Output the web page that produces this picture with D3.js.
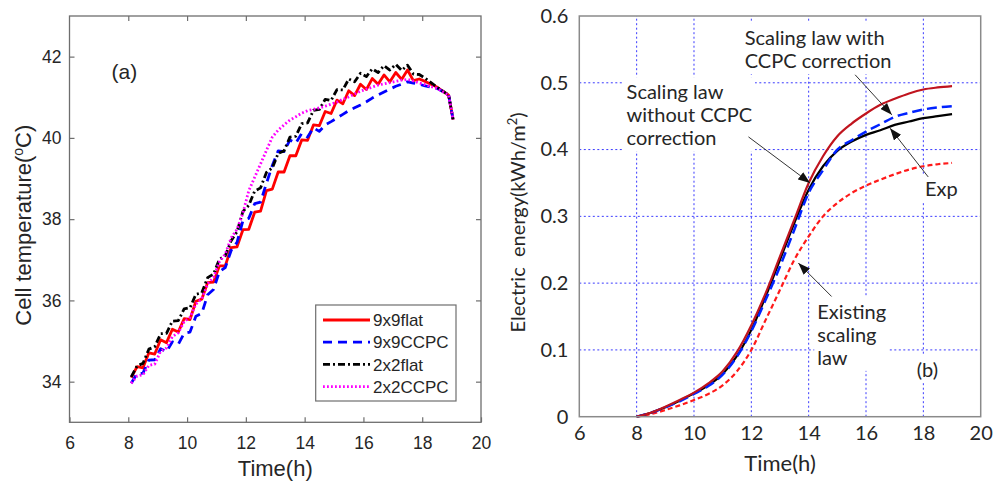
<!DOCTYPE html>
<html><head><meta charset="utf-8">
<script src="https://cdnjs.cloudflare.com/ajax/libs/d3/7.8.5/d3.min.js"></script>
<style>
body{margin:0;background:#fff;}
svg{display:block;}
</style></head>
<body>
<svg id="c" width="995" height="481"></svg>
<script>
// ---------- Panel (a) data ----------
const timeA = [8.1,8.3,8.5,8.7,8.9,9.1,9.3,9.5,9.7,9.9,10.1,10.3,10.5,10.7,10.9,11.1,11.3,11.5,11.7,11.9,12.1,12.3,12.5,12.7,12.9,13.1,13.3,13.5,13.7,13.9,14.1,14.3,14.5,14.7,14.9,15.1,15.3,15.5,15.7,15.9,16.1,16.3,16.5,16.7,16.9,17.1,17.3,17.5,17.7,17.9,18.1,18.3,18.5,18.7,18.9,19.05];
const flat9x9 = [34.10,34.37,34.34,34.71,34.68,35.03,34.96,35.29,35.22,35.55,35.53,35.98,36.03,36.44,36.45,36.85,36.85,37.30,37.32,37.74,37.75,38.17,38.20,38.70,38.74,39.16,39.16,39.56,39.56,39.95,39.94,40.32,40.30,40.65,40.60,40.93,40.84,41.16,41.04,41.32,41.19,41.46,41.32,41.55,41.38,41.61,41.44,41.67,41.41,41.45,41.39,41.32,41.25,41.15,41.05,40.45];
const ccpc9x9 = [33.96,34.20,34.21,34.53,34.54,34.81,34.74,34.98,34.92,35.19,35.22,35.61,35.68,36.14,36.27,36.71,36.81,37.23,37.43,37.96,38.02,38.38,38.42,38.88,39.32,39.68,39.66,39.95,39.87,40.11,40.02,40.25,40.16,40.32,40.40,40.49,40.58,40.67,40.74,40.81,40.89,40.98,41.06,41.13,41.20,41.27,41.32,41.38,41.35,41.32,41.28,41.25,41.22,41.14,41.05,40.45];
const flat2x2 = [34.12,34.39,34.45,34.80,34.86,35.18,35.19,35.49,35.50,35.79,35.82,36.15,36.19,36.56,36.65,37.01,37.10,37.47,37.69,38.19,38.34,38.69,38.77,39.15,39.26,39.62,39.68,40.02,40.04,40.35,40.37,40.68,40.70,40.95,40.92,41.19,41.18,41.45,41.38,41.59,41.51,41.70,41.61,41.78,41.67,41.81,41.66,41.79,41.57,41.56,41.47,41.36,41.25,41.15,41.05,40.45];
const ccpc2x2 = [33.96,34.14,34.17,34.40,34.43,34.75,34.83,35.11,35.20,35.48,35.58,35.91,36.04,36.40,36.57,36.95,37.14,37.54,37.75,38.15,38.70,39.03,39.36,39.69,40.02,40.19,40.32,40.44,40.52,40.61,40.67,40.70,40.74,40.78,40.83,40.88,40.95,41.01,41.08,41.15,41.20,41.25,41.30,41.33,41.36,41.39,41.42,41.44,41.40,41.35,41.31,41.26,41.22,41.14,41.05,40.45];
const legendA = ["9x9flat","9x9CCPC","2x2flat","2x2CCPC"];
const xTicksA = [6,8,10,12,14,16,18,20];
const yTicksA = [34,36,38,40,42];

// ---------- Panel (b) data ----------
const timeB = [8,8.5,9,9.5,10,10.5,11,11.5,12,12.5,13,13.5,14,14.5,15,15.5,16,16.5,17,17.5,18,18.5,19];
const scalingNoCorr = [0,0.006,0.015,0.025,0.036,0.05,0.068,0.097,0.137,0.185,0.24,0.295,0.35,0.39,0.42,0.439,0.454,0.467,0.476,0.484,0.49,0.493,0.495];
const scalingCorr   = [0,0.006,0.014,0.023,0.034,0.046,0.063,0.09,0.128,0.175,0.225,0.28,0.335,0.369,0.4,0.414,0.427,0.438,0.449,0.455,0.46,0.463,0.465];
const expData       = [0,0.006,0.014,0.024,0.035,0.047,0.064,0.091,0.13,0.18,0.235,0.29,0.34,0.375,0.398,0.412,0.422,0.429,0.437,0.442,0.447,0.45,0.453];
const existingLaw   = [0,0.004,0.01,0.017,0.025,0.034,0.047,0.068,0.1,0.145,0.19,0.235,0.27,0.3,0.32,0.335,0.346,0.355,0.363,0.37,0.375,0.378,0.38];
const xTicksB = [6,8,10,12,14,16,18,20];
const yTicksB = [0,0.1,0.2,0.3,0.4,0.5,0.6];

const svg = d3.select("#c");
const FA = "'Liberation Sans', Arial, sans-serif";
const FB = "Lato, 'Open Sans', sans-serif";

// ================= Panel (a) =================
const xA = d3.scaleLinear().domain([6,20]).range([69.5,481]);
const yA = d3.scaleLinear().domain([33,43]).range([422.3,16]);
const gA = svg.append("g");
const axisCol = "#6e6e6e", txtCol = "#262626";

gA.append("rect").attr("x",xA(6)).attr("y",yA(43)).attr("width",xA(20)-xA(6)).attr("height",yA(33)-yA(43))
  .attr("fill","none").attr("stroke",axisCol).attr("stroke-width",1.3);

function styleAxis(g, showLabels){
  g.select(".domain").remove();
  g.selectAll(".tick line").attr("stroke",axisCol).attr("stroke-width",1.2);
  g.selectAll(".tick text").attr("fill",txtCol).style("font-family",FA).style("font-size","17.5px");
  if(!showLabels) g.selectAll(".tick text").remove();
}
gA.append("g").attr("transform",`translate(0,${yA(33)})`)
  .call(d3.axisBottom(xA).tickValues(xTicksA).tickSizeInner(-5).tickSizeOuter(0).tickPadding(14).tickFormat(d3.format("d")))
  .call(g=>styleAxis(g,true));
gA.append("g").attr("transform",`translate(0,${yA(43)})`)
  .call(d3.axisTop(xA).tickValues(xTicksA.slice(1,-1)).tickSizeInner(-5).tickSizeOuter(0))
  .call(g=>styleAxis(g,false));
gA.append("g").attr("transform",`translate(${xA(6)},0)`)
  .call(d3.axisLeft(yA).tickValues(yTicksA).tickSizeInner(-5).tickSizeOuter(0).tickPadding(8).tickFormat(d3.format("d")))
  .call(g=>styleAxis(g,true));
gA.append("g").attr("transform",`translate(${xA(20)},0)`)
  .call(d3.axisRight(yA).tickValues(yTicksA).tickSizeInner(-5).tickSizeOuter(0))
  .call(g=>styleAxis(g,false));

gA.append("text").attr("x",(xA(6)+xA(20))/2).attr("y",476).attr("text-anchor","middle")
  .style("font-family",FA).style("font-size","22px").attr("fill",txtCol).text("Time(h)");
const ylA = gA.append("text").attr("transform",`translate(31,${(yA(33)+yA(43))/2+6}) rotate(-90)`).attr("text-anchor","middle")
  .style("font-family",FA).style("font-size","22px").attr("fill",txtCol);
ylA.append("tspan").text("Cell temperature(");
ylA.append("tspan").attr("dy","-8").style("font-size","14px").text("o");
ylA.append("tspan").attr("dy","8").text("C)");

gA.append("text").attr("x",xA(7.43)).attr("y",yA(41.63)).attr("dy","0.35em")
  .style("font-family",FA).style("font-size","21px").attr("fill",txtCol).text("(a)");

const seriesA = [
  {name:legendA[0], vals:flat9x9, color:"#ff0000", dash:null, w:2.8},
  {name:legendA[1], vals:ccpc9x9, color:"#0000ff", dash:"9,6", w:2.8},
  {name:legendA[2], vals:flat2x2, color:"#000000", dash:"7,3,2,3", w:2.8},
  {name:legendA[3], vals:ccpc2x2, color:"#ff00ff", dash:"1.8,2.2", w:2.8}
];
const lineA = d3.line().x(d=>xA(d[0])).y(d=>yA(d[1]));
seriesA.forEach(s=>{
  gA.append("path").datum(timeA.map((t,i)=>[t,s.vals[i]]))
    .attr("d",lineA).attr("fill","none").attr("stroke",s.color).attr("stroke-width",s.w)
    .attr("stroke-dasharray",s.dash).attr("stroke-linejoin","round");
});

// legend
const lg = gA.append("g");
lg.append("rect").attr("x",315.7).attr("y",305).attr("width",140.3).attr("height",96)
  .attr("fill","#fff").attr("stroke",axisCol).attr("stroke-width",1.2);
seriesA.forEach((s,i)=>{
  const yy = 320 + i*22.2;
  lg.append("line").attr("x1",323).attr("x2",370).attr("y1",yy).attr("y2",yy)
    .attr("stroke",s.color).attr("stroke-width",s.w).attr("stroke-dasharray",s.dash);
  lg.append("text").attr("x",373).attr("y",yy).attr("dy","0.36em")
    .style("font-family",FA).style("font-size","17px").attr("fill",txtCol).text(s.name);
});

// ================= Panel (b) =================
const xB = d3.scaleLinear().domain([6,20]).range([579.3,980.7]);
const yB = d3.scaleLinear().domain([0,0.6]).range([416.7,16]);
const gB = svg.append("g");
const gridCol = "#3a3aff";

gB.selectAll(".vg").data(xTicksB.slice(1,-1)).join("line")
  .attr("x1",d=>xB(d)).attr("x2",d=>xB(d)).attr("y1",yB(0)).attr("y2",yB(0.6))
  .attr("stroke",gridCol).attr("stroke-width",1).attr("stroke-dasharray","2,2.5");
gB.selectAll(".hg").data(yTicksB.slice(1,-1)).join("line")
  .attr("x1",xB(6)).attr("x2",xB(20)).attr("y1",d=>yB(d)).attr("y2",d=>yB(d))
  .attr("stroke",gridCol).attr("stroke-width",1).attr("stroke-dasharray","2,2.5");

gB.append("g").attr("transform",`translate(0,${yB(0)})`)
  .call(d3.axisBottom(xB).tickValues(xTicksB).tickSize(0).tickPadding(9).tickFormat(d3.format("d")))
  .call(g=>{g.select(".domain").remove(); g.selectAll("text").style("font-family",FB).style("font-size","20px").attr("fill",txtCol);});
gB.append("g").attr("transform",`translate(${xB(6)},0)`)
  .call(d3.axisLeft(yB).tickValues(yTicksB).tickSize(0).tickPadding(11).tickFormat(d=>d===0?"0":d3.format(".1f")(d)))
  .call(g=>{g.select(".domain").remove(); g.selectAll("text").style("font-family",FB).style("font-size","20px").attr("fill",txtCol);});

gB.append("text").attr("x",(xB(6)+xB(20))/2).attr("y",471).attr("text-anchor","middle")
  .style("font-family",FB).style("font-size","22px").attr("fill",txtCol).text("Time(h)");
const ylB = gB.append("text").attr("transform",`translate(525,${(yB(0)+yB(0.6))/2+6}) rotate(-90)`).attr("text-anchor","middle")
  .style("font-family",FB).style("font-size","20px").attr("fill",txtCol);
ylB.append("tspan").text("Electric\u00a0\u00a0energy(kWh/m");
ylB.append("tspan").attr("dy","-8").style("font-size","13px").text("2");
ylB.append("tspan").attr("dy","8").text(")");

// annotations
const anns = [
  {x:11.77, y:0.567, lines:["Scaling law with","CCPC correction"]},
  {x:7.65, y:0.486, lines:["Scaling law","without CCPC","correction"]},
  {x:18.06, y:0.341, lines:["Exp"]},
  {x:14.3, y:0.157, lines:["Existing","scaling","law"]},
  {x:17.77, y:0.07, lines:["(b)"]}
];
const annG = gB.append("g");
const curveG = gB.append("g");
const arrowG = gB.append("g");

const lineB = d3.line().x(d=>xB(d[0])).y(d=>yB(d[1])).curve(d3.curveMonotoneX);
const seriesB = [
  {vals:existingLaw, color:"#ff1a1a", dash:"5,3", w:2.2},
  {vals:expData, color:"#000000", dash:null, w:2.2},
  {vals:scalingCorr, color:"#0022ff", dash:"10,5", w:2.5},
  {vals:scalingNoCorr, color:"#c0141e", dash:null, w:2.2}
];
seriesB.forEach(s=>{
  curveG.append("path").datum(timeB.map((t,i)=>[t,s.vals[i]]))
    .attr("d",lineB).attr("fill","none").attr("stroke",s.color).attr("stroke-width",s.w)
    .attr("stroke-dasharray",s.dash);
});

svg.append("defs").append("marker").attr("id","ah").attr("markerUnits","userSpaceOnUse")
  .attr("markerWidth",13).attr("markerHeight",9).attr("refX",12).attr("refY",4.5).attr("orient","auto")
  .append("path").attr("d","M0,0 L12,4.5 L0,9 Z").attr("fill","#111");
const arrows = [
  {from:[15.62,0.512], to:[16.9,0.452]},
  {from:[11.9,0.419], to:[14.05,0.35]},
  {from:[18.17,0.359], to:[16.84,0.432]},
  {from:[14.8,0.18], to:[13.64,0.23]}
];
arrows.forEach(a=>{
  arrowG.append("line").attr("x1",xB(a.from[0])).attr("y1",yB(a.from[1]))
    .attr("x2",xB(a.to[0])).attr("y2",yB(a.to[1]))
    .attr("stroke","#333").attr("stroke-width",1).attr("marker-end","url(#ah)");
});

anns.forEach(a=>{
  const tg = annG.append("g");
  const t = tg.append("text").style("font-family",FB).style("font-size","20px").attr("fill",txtCol);
  a.lines.forEach((l,i)=>{
    t.append("tspan").attr("x",xB(a.x)).attr("y",yB(a.y)+i*23).attr("dy","0.35em").text(l);
  });
  const bb = t.node().getBBox();
  tg.insert("rect","text").attr("x",bb.x-3).attr("y",bb.y-2).attr("width",bb.width+6).attr("height",bb.height+4).attr("fill","#fff");
});

// border of panel (b)
gB.append("rect").attr("x",xB(6)).attr("y",yB(0.6)).attr("width",xB(20)-xB(6)).attr("height",yB(0)-yB(0.6))
  .attr("fill","none").attr("stroke","#8a8a8a").attr("stroke-width",1.5);
</script>
</body></html>
